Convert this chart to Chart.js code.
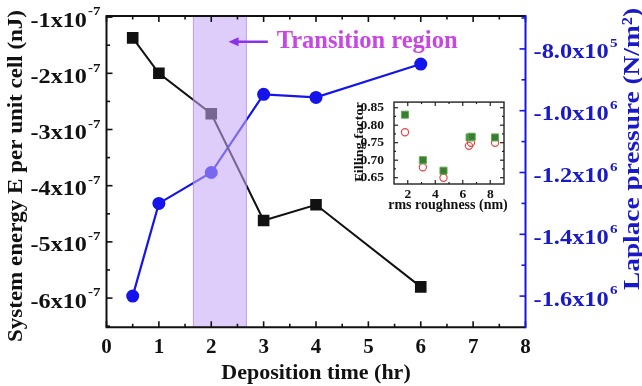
<!DOCTYPE html>
<html>
<head>
<meta charset="utf-8">
<script src="https://cdn.jsdelivr.net/npm/chart.js@4/dist/chart.umd.min.js"></script>
<style>
  html, body { margin: 0; padding: 0; background: #fff; }
  #wrap { position: relative; width: 642px; height: 386px; overflow: hidden; }
  #main { position: absolute; left: 0; top: 0; }
  #inset { position: absolute; left: 345px; top: 92px; }
</style>
</head>
<body>
<div id="wrap">
  <canvas id="main" width="642" height="386"></canvas>
  <canvas id="inset" width="170" height="125"></canvas>
</div>
<script>
// ---- main panel data ----
const depositionTime = [0.5, 1, 2, 3, 4, 6];
const systemEnergy = [-1.37e-7, -2.0e-7, -2.72e-7, -4.62e-7, -4.34e-7, -5.80e-7];
const laplacePressure = [-1.60e6, -1.30e6, -1.20e6, -0.947e6, -0.957e6, -0.849e6];
const transitionRange = [1.65, 2.68];

const timeTickValues = [0, 1, 2, 3, 4, 5, 6, 7, 8];
const energyTickValues = [-1e-7, -2e-7, -3e-7, -4e-7, -5e-7, -6e-7];
const energyTickBases = ['-1x10', '-2x10', '-3x10', '-4x10', '-5x10', '-6x10'];
const energyTickExps = ['-7', '-7', '-7', '-7', '-7', '-7'];
const pressureTickValues = [-8e5, -1.0e6, -1.2e6, -1.4e6, -1.6e6];
const pressureTickBases = ['-8.0x10', '-1.0x10', '-1.2x10', '-1.4x10', '-1.6x10'];
const pressureTickExps = ['5', '6', '6', '6', '6'];

// ---- inset data ----
const roughnessSquares = [1.8, 3.1, 4.6, 6.5, 6.65, 8.35];
const fillingSquares = [0.83, 0.70, 0.67, 0.765, 0.767, 0.765];
const roughnessCircles = [1.8, 3.1, 4.6, 6.45, 6.6, 8.35];
const fillingCircles = [0.78, 0.68, 0.65, 0.741, 0.75, 0.75];
const roughnessTickValues = [2, 4, 6, 8];
const fillingTickValues = [0.65, 0.70, 0.75, 0.80, 0.85];

const SERIF = '"Liberation Serif", "Times New Roman", serif';
const BLACK = '#111111';
const BLUE = 'rgb(20,20,235)';
const BLUE_TEXT = 'rgb(25,25,200)';

const toPoints = (xs, ys) => xs.map((x, i) => ({ x, y: ys[i] }));

// number with a superscript exponent, fitted to a given width
function drawSci(ctx, base, exp, x, y, align, color, size, width) {
  const bf = `bold ${size}px ${SERIF}`;
  const ef = `bold ${Math.round(size * 0.62)}px ${SERIF}`;
  ctx.font = bf; const wb = ctx.measureText(base).width;
  ctx.font = ef; const we = ctx.measureText(exp).width;
  const natural = wb + 1 + we;
  const sx = width ? width / natural : 1;
  const x0 = align === 'right' ? x - natural * sx : x;
  ctx.save();
  ctx.translate(x0, y);
  ctx.scale(sx, 1);
  ctx.fillStyle = color;
  ctx.textAlign = 'left';
  ctx.textBaseline = 'middle';
  ctx.font = bf; ctx.fillText(base, 0, 4);
  ctx.font = ef; ctx.fillText(exp, wb + 1, -5);
  ctx.restore();
}

// vertical title reading bottom-to-top, fitted to a given length
function drawVerticalTitle(ctx, text, cx, cy, font, color, length) {
  ctx.save();
  ctx.font = font;
  const w = ctx.measureText(text).width;
  ctx.translate(cx, cy);
  ctx.rotate(-Math.PI / 2);
  ctx.scale(length / w, 1);
  ctx.fillStyle = color;
  ctx.textAlign = 'center';
  ctx.textBaseline = 'middle';
  ctx.fillText(text, 0, 0);
  ctx.restore();
}

function line(ctx, x1, y1, x2, y2) {
  ctx.beginPath(); ctx.moveTo(x1, y1); ctx.lineTo(x2, y2); ctx.stroke();
}

const mainDecor = {
  id: 'mainDecor',
  afterDatasetsDraw(chart) {
    const { ctx, chartArea: a, scales: { x } } = chart;
    const x1 = x.getPixelForValue(transitionRange[0]);
    const x2 = x.getPixelForValue(transitionRange[1]);
    ctx.save();
    ctx.fillStyle = 'rgba(197,167,246,0.57)';
    ctx.fillRect(x1, a.top, x2 - x1, a.bottom - a.top);
    ctx.strokeStyle = 'rgba(160,125,220,0.55)';
    ctx.lineWidth = 1;
    line(ctx, x1 + 0.5, a.top, x1 + 0.5, a.bottom);
    line(ctx, x2 - 0.5, a.top, x2 - 0.5, a.bottom);
    ctx.restore();
  },
  afterDraw(chart) {
    const { ctx, chartArea: a, scales: { x, yE, yP } } = chart;
    ctx.save();
    ctx.lineCap = 'butt';

    // inward ticks on the time axis (bottom and top)
    ctx.strokeStyle = BLACK; ctx.lineWidth = 1.6;
    for (let v = 0; v <= 8; v += 0.5) {
      const px = x.getPixelForValue(v);
      const len = Number.isInteger(v) ? 6 : 3.5;
      line(ctx, px, a.bottom, px, a.bottom - len);
      line(ctx, px, a.top, px, a.top + len);
    }
    // inward ticks on the energy axis
    for (let v = -1; v >= -6.5; v -= 0.5) {
      const py = yE.getPixelForValue(v * 1e-7);
      const len = Number.isInteger(v) ? 6 : 3.5;
      line(ctx, a.left, py, a.left + len, py);
    }
    // inward ticks on the pressure axis
    ctx.strokeStyle = BLUE;
    for (let k = 7; k <= 17; k++) {
      const py = yP.getPixelForValue(-k * 1e5);
      if (py < a.top + 1 || py > a.bottom - 1) continue;
      const len = k % 2 === 0 ? 6 : 4;
      line(ctx, a.right, py, a.right - len, py);
    }

    // frame
    ctx.lineWidth = 2;
    ctx.strokeStyle = BLACK;
    ctx.beginPath();
    ctx.moveTo(a.right, a.top); ctx.lineTo(a.left, a.top);
    ctx.lineTo(a.left, a.bottom); ctx.lineTo(a.right, a.bottom);
    ctx.stroke();
    ctx.strokeStyle = BLUE;
    line(ctx, a.right, a.top - 1, a.right, a.bottom + 1);

    // energy tick labels
    energyTickValues.forEach((v, i) => {
      drawSci(ctx, energyTickBases[i], energyTickExps[i], a.left - 6, yE.getPixelForValue(v),
        'right', BLACK, 21, 70);
    });
    // pressure tick labels
    pressureTickValues.forEach((v, i) => {
      drawSci(ctx, pressureTickBases[i], pressureTickExps[i], a.right + 8, yP.getPixelForValue(v),
        'left', BLUE_TEXT, 21, 84);
    });

    // axis titles
    ctx.textAlign = 'center';
    ctx.textBaseline = 'middle';
    ctx.fillStyle = BLACK;
    ctx.font = `bold 22px ${SERIF}`;
    ctx.fillText('Deposition time (hr)', (a.left + a.right) / 2, 373);

    drawVerticalTitle(ctx, 'System energy E per unit cell (nJ)', 16, 176,
      `bold 22px ${SERIF}`, BLACK, 332);
    drawVerticalTitle(ctx, 'Laplace pressure (N/m\u00B2)', 633, 149,
      `bold 24px ${SERIF}`, BLUE_TEXT, 282);

    // transition-region annotation
    const ay = yE.getPixelForValue(-1.44e-7);
    const tail = x.getPixelForValue(3.08);
    const tip = x.getPixelForValue(2.33);
    ctx.strokeStyle = 'rgb(140,50,230)';
    ctx.fillStyle = 'rgb(140,50,230)';
    ctx.lineWidth = 2.5;
    line(ctx, tail, ay, tip + 6, ay);
    ctx.beginPath();
    ctx.moveTo(tip, ay);
    ctx.lineTo(tip + 10, ay - 4.5);
    ctx.lineTo(tip + 10, ay + 4.5);
    ctx.closePath();
    ctx.fill();

    ctx.fillStyle = 'rgb(200,70,228)';
    ctx.font = `bold 24.5px ${SERIF}`;
    ctx.textAlign = 'left';
    ctx.textBaseline = 'alphabetic';
    ctx.fillText('Transition region', x.getPixelForValue(3.25), ay + 6.5);

    ctx.restore();
  }
};

new Chart(document.getElementById('main'), {
  type: 'line',
  data: {
    datasets: [
      {
        label: 'System energy',
        data: toPoints(depositionTime, systemEnergy),
        yAxisID: 'yE',
        borderColor: BLACK,
        backgroundColor: BLACK,
        borderWidth: 2,
        pointStyle: 'rect',
        pointRadius: 8.2,
        pointBorderWidth: 0,
        tension: 0
      },
      {
        label: 'Laplace pressure',
        data: toPoints(depositionTime, laplacePressure),
        yAxisID: 'yP',
        borderColor: BLUE,
        backgroundColor: BLUE,
        borderWidth: 2.2,
        pointStyle: 'circle',
        pointRadius: 6.5,
        pointBorderWidth: 0,
        tension: 0
      }
    ]
  },
  options: {
    responsive: false,
    animation: false,
    devicePixelRatio: 1,
    layout: { padding: { top: 16, left: 0, right: 0, bottom: 0 } },
    plugins: { legend: { display: false }, tooltip: { enabled: false } },
    scales: {
      x: {
        type: 'linear',
        min: 0, max: 8,
        grid: { display: false },
        border: { display: false },
        afterBuildTicks: s => { s.ticks = timeTickValues.map(v => ({ value: v })); },
        afterFit: s => { s.height = 58.7; },
        ticks: {
          color: BLACK,
          padding: 0,
          maxRotation: 0,
          font: { family: SERIF, size: 21, weight: 'bold' }
        }
      },
      yE: {
        type: 'linear',
        position: 'left',
        min: -6.52e-7, max: -0.98e-7,
        grid: { display: false },
        border: { display: false },
        ticks: { display: false },
        afterFit: s => { s.width = 106.5; }
      },
      yP: {
        type: 'linear',
        position: 'right',
        min: -1.701e6, max: -0.6935e6,
        grid: { display: false },
        border: { display: false },
        ticks: { display: false },
        afterFit: s => { s.width = 116.5; }
      }
    }
  },
  plugins: [mainDecor]
});

// ---- inset: filling factor vs rms roughness ----
const insetDecor = {
  id: 'insetDecor',
  afterDraw(chart) {
    const { ctx, chartArea: a, scales: { x, y } } = chart;
    ctx.save();
    ctx.strokeStyle = '#222';
    ctx.lineWidth = 1.2;
    for (let v = 2; v <= 8; v += 1) {
      const px = x.getPixelForValue(v);
      const len = v % 2 === 0 ? 4 : 2;
      line(ctx, px, a.bottom, px, a.bottom - len);
      line(ctx, px, a.top, px, a.top + len);
    }
    for (let k = 0; k <= 8; k++) {
      const v = 0.65 + k * 0.025;
      const py = y.getPixelForValue(v);
      const len = k % 2 === 0 ? 4 : 2;
      line(ctx, a.left, py, a.left + len, py);
      line(ctx, a.right, py, a.right - len, py);
    }
    ctx.lineWidth = 1.4;
    ctx.strokeRect(a.left, a.top, a.right - a.left, a.bottom - a.top);

    ctx.fillStyle = BLACK;
    ctx.textAlign = 'center';
    ctx.textBaseline = 'middle';
    ctx.font = `bold 14px ${SERIF}`;
    ctx.fillText('rms roughness (nm)', (a.left + a.right) / 2 - 1, 113);
    drawVerticalTitle(ctx, 'Filling factor', 15, (a.top + a.bottom) / 2 - 1,
      `bold 12px ${SERIF}`, BLACK, 80);
    ctx.restore();
  }
};

new Chart(document.getElementById('inset'), {
  type: 'scatter',
  data: {
    datasets: [
      {
        label: 'filled',
        data: toPoints(roughnessSquares, fillingSquares),
        pointStyle: 'rect',
        pointRadius: 5,
        pointBackgroundColor: 'rgb(55,125,50)',
        pointBorderColor: 'rgb(105,170,85)',
        pointBorderWidth: 1
      },
      {
        label: 'open',
        data: toPoints(roughnessCircles, fillingCircles),
        pointStyle: 'circle',
        pointRadius: 3.6,
        pointBackgroundColor: 'rgba(0,0,0,0)',
        pointBorderColor: 'rgb(235,70,70)',
        pointBorderWidth: 1.2
      }
    ]
  },
  options: {
    responsive: false,
    animation: false,
    devicePixelRatio: 1,
    layout: { padding: { top: 8, right: 11, left: 0, bottom: 0 } },
    plugins: { legend: { display: false }, tooltip: { enabled: false } },
    scales: {
      x: {
        type: 'linear',
        min: 1, max: 9,
        grid: { display: false },
        border: { display: false },
        afterBuildTicks: s => { s.ticks = roughnessTickValues.map(v => ({ value: v })); },
        afterFit: s => { s.height = 33; },
        ticks: {
          color: BLACK, padding: -6, maxRotation: 0,
          font: { family: SERIF, size: 13.5, weight: 'bold' }
        }
      },
      y: {
        type: 'linear',
        min: 0.632, max: 0.866,
        grid: { display: false },
        border: { display: false },
        afterBuildTicks: s => { s.ticks = fillingTickValues.map(v => ({ value: v })); },
        afterFit: s => { s.width = 49; },
        ticks: {
          color: BLACK, padding: 2,
          font: { family: SERIF, size: 13.5, weight: 'bold' },
          callback: v => Number(v).toFixed(2)
        }
      }
    }
  },
  plugins: [insetDecor]
});
</script>
</body>
</html>
